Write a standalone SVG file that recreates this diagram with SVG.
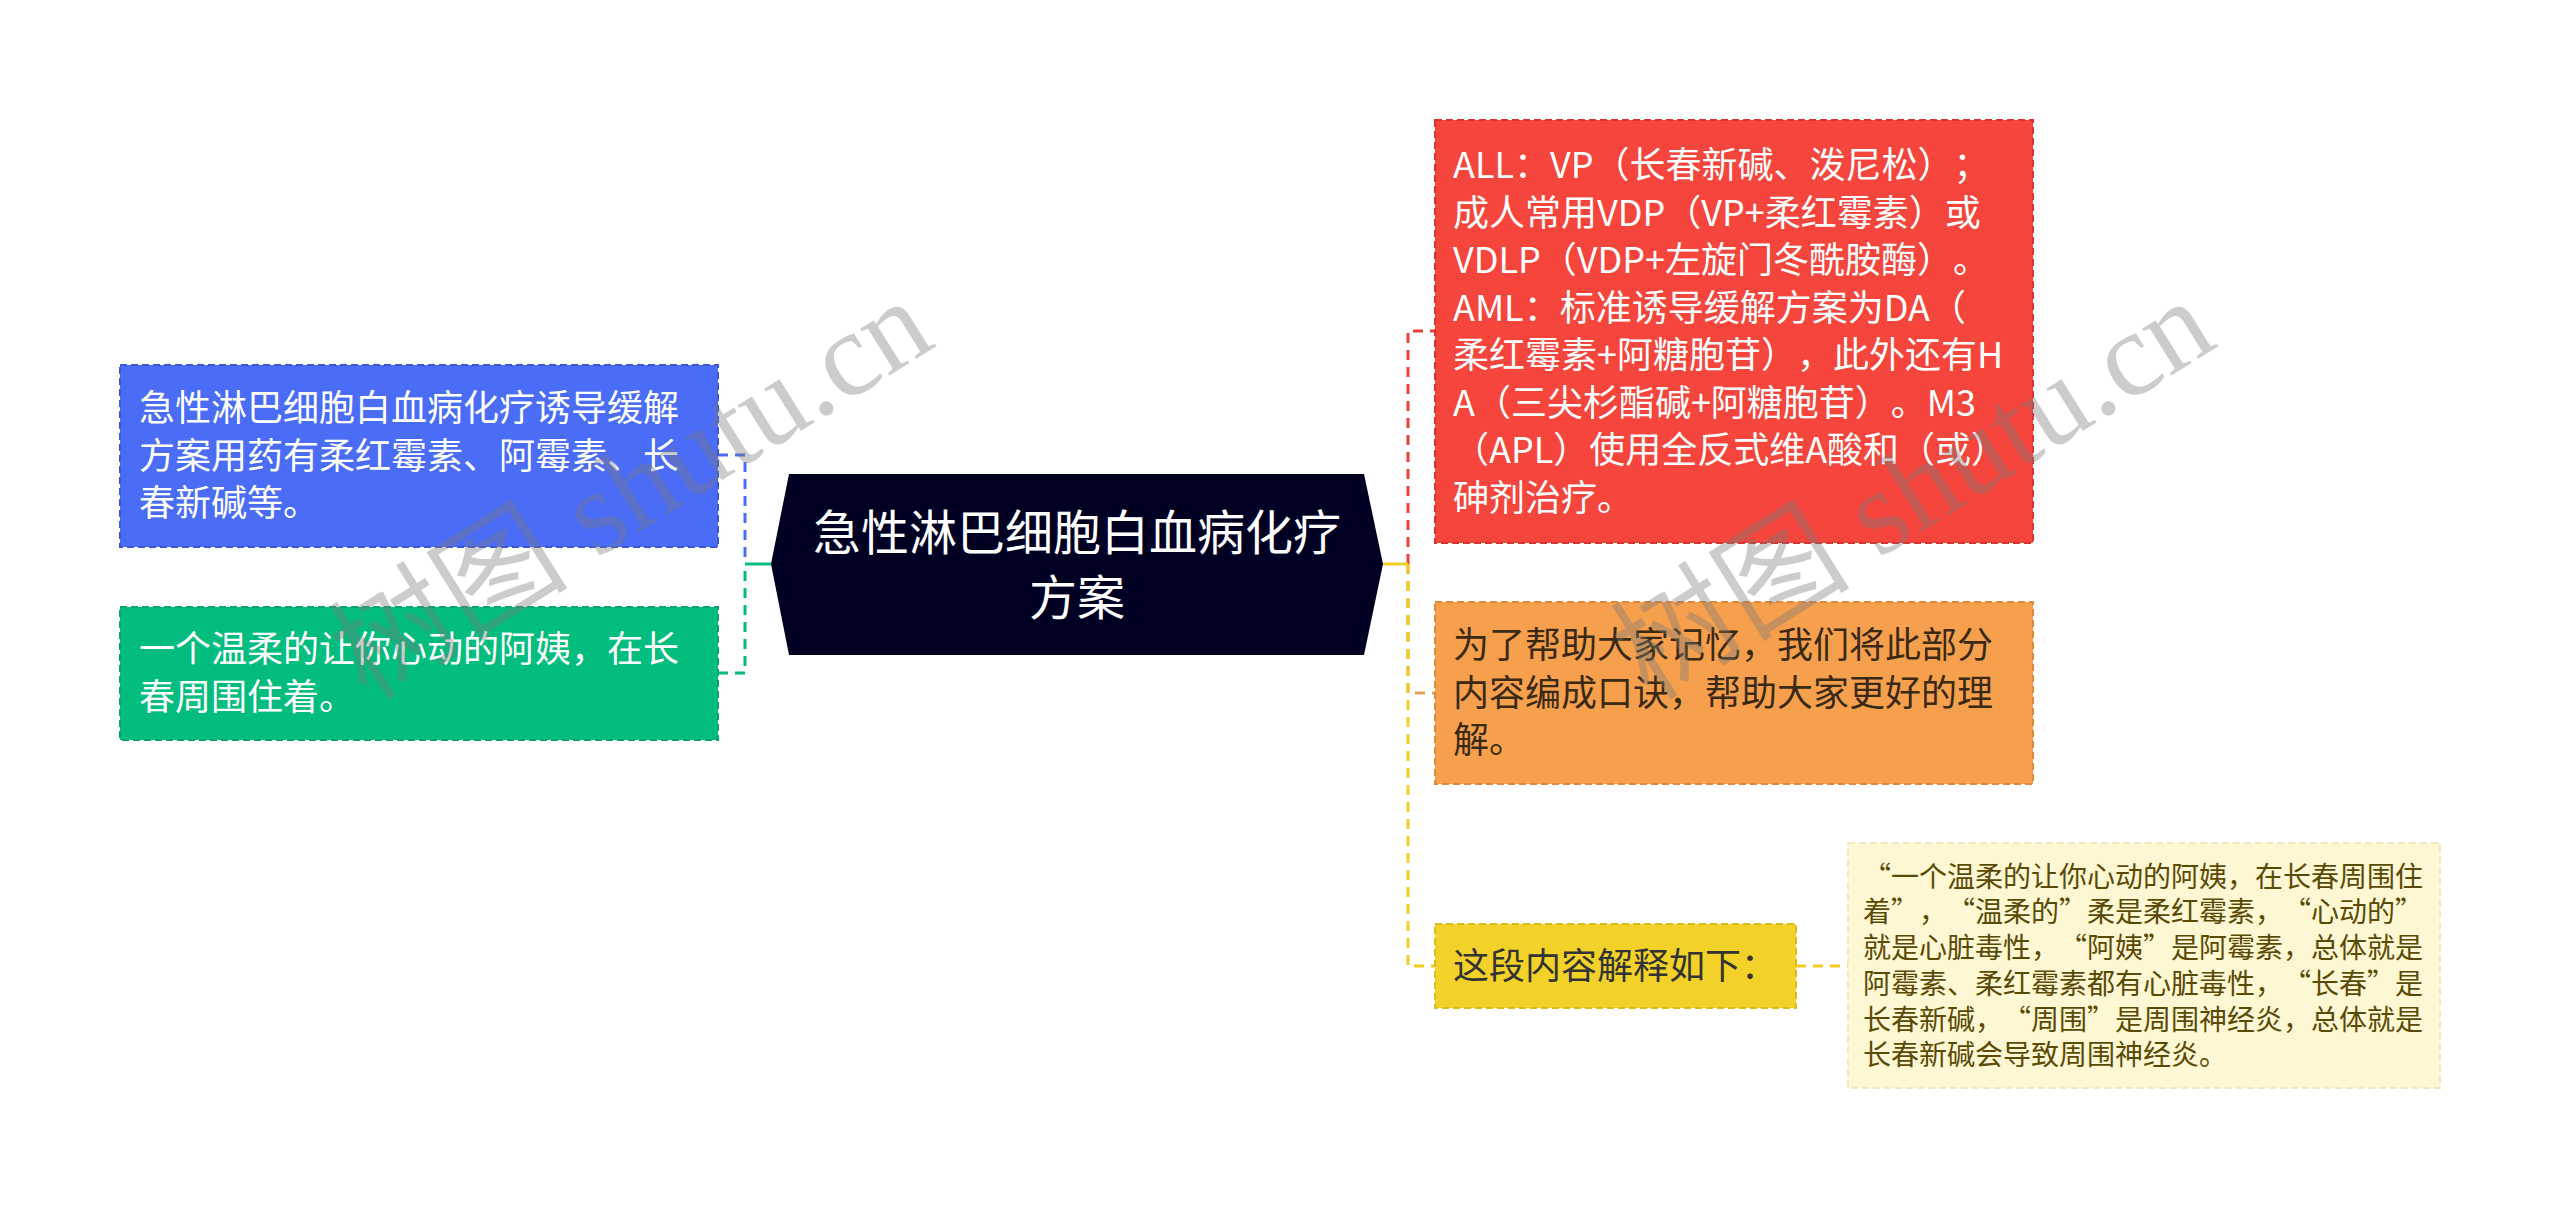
<svg xmlns="http://www.w3.org/2000/svg" width="2560" height="1210" viewBox="0 0 2560 1210">
<style>
text{font-family:"Noto Sans CJK SC","Noto Sans",sans-serif;text-spacing-trim:space-all;}
.t36{font-size:36px;}
.w{fill:#ffffff;}
.box{stroke-width:2;stroke-dasharray:7 4;}
.c{fill:none;stroke-width:3;stroke-dasharray:10 7;}
.s{fill:none;stroke-width:3;}
.wm{font-family:"Liberation Serif","Noto Sans CJK SC",serif;font-size:120px;fill:#7a7a7a;opacity:0.38;}
</style>
<rect width="2560" height="1210" fill="#ffffff"/>
<g id="connectors">
<path class="c" d="M718,455 H745 V564" stroke="#4a6cf7"/>
<path class="c" d="M718,673 H745 V564" stroke="#02bd7d"/>
<path class="s" d="M745,564 H771" stroke="#02bd7d"/>
<path class="c" d="M1408,564 V331 H1435" stroke="#e8413a"/>
<path class="c" d="M1408,564 V693 H1435" stroke="#dfa060"/>
<path class="c" d="M1408,564 V966 H1434" stroke="#f0cc22"/>
<path class="s" d="M1383,564 H1408" stroke="#f0cc22"/>
<path class="c" d="M1796,966 H1848" stroke="#f0cc22"/>
</g>
<g id="root">
<polygon points="771,564 789,474 1364,474 1383,564 1364,655 789,655" fill="#000022"/>
<text x="1077" y="550" text-anchor="middle" font-size="48" class="w">急性淋巴细胞白血病化疗</text>
<text x="1077" y="615" text-anchor="middle" font-size="48" class="w">方案</text>
</g>
<g id="node-blue">
<rect class="box" x="120" y="365" width="598" height="182" fill="#4a6cf7" stroke="#3a58d8"/>
<text class="t36 w" x="139" y="421">急性淋巴细胞白血病化疗诱导缓解</text>
<text class="t36 w" x="139" y="469">方案用药有柔红霉素、阿霉素、长</text>
<text class="t36 w" x="139" y="516">春新碱等。</text>
</g>
<g id="node-green">
<rect class="box" x="120" y="607" width="598" height="133" fill="#02bd7d" stroke="#05a56c"/>
<text class="t36 w" x="139" y="662">一个温柔的让你心动的阿姨，在长</text>
<text class="t36 w" x="139" y="710">春周围住着。</text>
</g>
<g id="node-red">
<rect class="box" x="1435" y="120" width="598" height="423" fill="#f5453d" stroke="#d8352e"/>
<text class="t36 w" x="1453" y="178">ALL：VP（长春新碱、泼尼松）；</text>
<text class="t36 w" x="1453" y="226">成人常用VDP（VP+柔红霉素）或</text>
<text class="t36 w" x="1453" y="273">VDLP（VDP+左旋门冬酰胺酶）。</text>
<text class="t36 w" x="1453" y="321">AML：标准诱导缓解方案为DA（</text>
<text class="t36 w" x="1453" y="368">柔红霉素+阿糖胞苷），此外还有H</text>
<text class="t36 w" x="1453" y="416">A（三尖杉酯碱+阿糖胞苷）。M3</text>
<text class="t36 w" x="1453" y="463">（APL）使用全反式维A酸和（或）</text>
<text class="t36 w" x="1453" y="511">砷剂治疗。</text>
</g>
<g id="node-orange">
<rect class="box" x="1435" y="602" width="598" height="182" fill="#f6a04d" stroke="#e08a38"/>
<text class="t36" fill="#3a2a14" x="1453" y="658">为了帮助大家记忆，我们将此部分</text>
<text class="t36" fill="#3a2a14" x="1453" y="706">内容编成口诀，帮助大家更好的理</text>
<text class="t36" fill="#3a2a14" x="1453" y="753">解。</text>
</g>
<g id="node-yellow">
<rect class="box" x="1435" y="924" width="361" height="84" fill="#f2d228" stroke="#dcbc18"/>
<text class="t36" fill="#333333" x="1453" y="979">这段内容解释如下：</text>
</g>
<g id="node-note" font-size="28" fill="#5a4a06">
<rect class="box" x="1848" y="843" width="592" height="245" fill="#fdf7d3" stroke="#f1e9bd"/>
<text x="1863" y="887">“一个温柔的让你心动的阿姨，在长春周围住</text>
<text x="1863" y="922">着”，“温柔的”柔是柔红霉素，“心动的”</text>
<text x="1863" y="958">就是心脏毒性，“阿姨”是阿霉素，总体就是</text>
<text x="1863" y="994">阿霉素、柔红霉素都有心脏毒性，“长春”是</text>
<text x="1863" y="1030">长春新碱，“周围”是周围神经炎，总体就是</text>
<text x="1863" y="1065">长春新碱会导致周围神经炎。</text>
</g>
<g id="watermarks">
<text class="wm" transform="translate(367,702) rotate(-32)">树图 shutu.cn</text>
<text class="wm" transform="translate(1649,702) rotate(-32)">树图 shutu.cn</text>
</g>
</svg>
